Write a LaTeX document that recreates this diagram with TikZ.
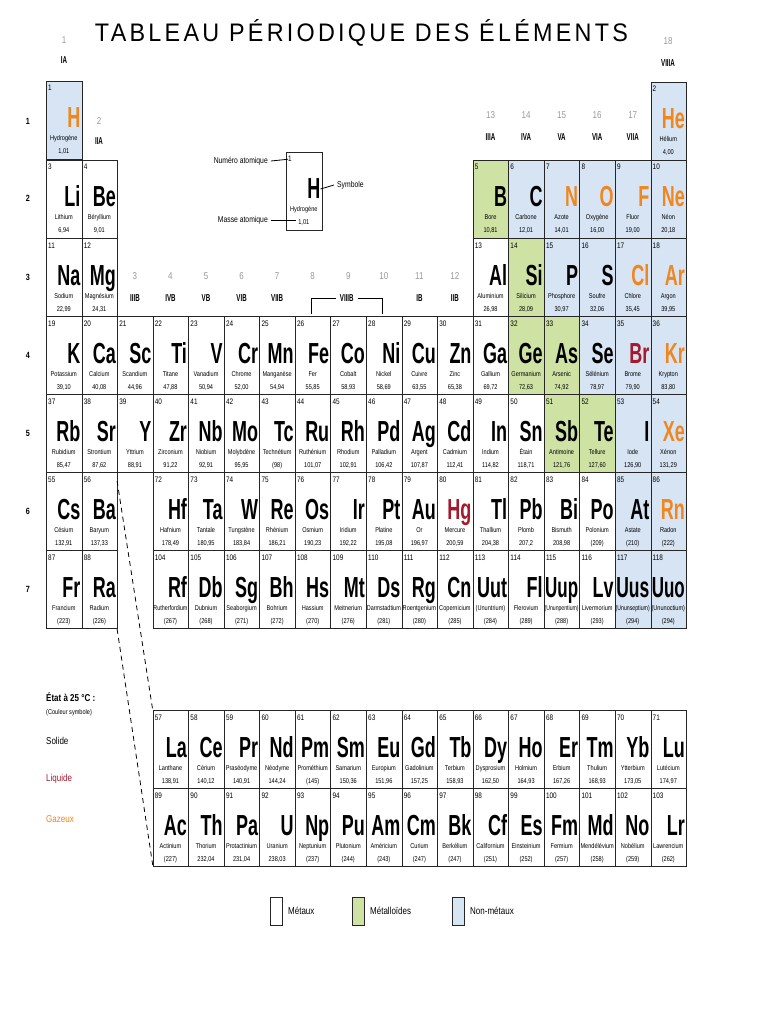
\documentclass[tikz,border=0pt]{standalone}
\usepackage{graphicx}
\usepackage{fontspec}
\setmainfont{Liberation Sans}
\newfontfamily\symf[FakeStretch=0.62]{Liberation Sans}
\newfontfamily\nf[FakeStretch=0.8]{Liberation Sans}
\newfontfamily\titf[LetterSpace=14]{Liberation Sans}
\definecolor{nm}{RGB}{214,228,244}
\definecolor{ml}{RGB}{206,226,164}
\definecolor{gas}{RGB}{240,134,30}
\definecolor{liq}{RGB}{165,25,45}
\colorlet{grp}{black!40}
\newsavebox\nbox
\newcommand\fitw[2]{\sbox\nbox{#2}\ifdim\wd\nbox>#1\resizebox{#1}{\ht\nbox}{\usebox\nbox}\else\usebox\nbox\fi}
\def\pfx{}
\newcommand\el[8]{%
 \pgfmathsetmacro\cx{46+35.56*(#1-1)}%
 \node[cell,fill=#7] (\pfx e#3) at (\cx,#2) {};
 \node[numf,anchor=base west] (\pfx n#3) at (\cx+2,#2+10) {#3};
 \node[symb,text=#8,anchor=base east] (\pfx s#3) at (\cx+34.5,#2+47) {\fitw{33pt}{#4}};
 \node[namef,anchor=base] (\pfx a#3) at (\cx+17.78,#2+60) {\fitw{34pt}{#5}};
 \node[namef,anchor=base] (\pfx m#3) at (\cx+17.78,#2+73) {#6};
}
\tikzset{
 cell/.style={draw=black!85,line width=0.9pt,minimum width=35.56pt,minimum height=78pt,inner sep=0pt,anchor=north west},
 numf/.style={inner sep=0pt,font=\nf\fontsize{8}{8}\selectfont},
 symb/.style={inner sep=0pt,font=\symf\bfseries\fontsize{29}{29}\selectfont},
 namef/.style={inner sep=0pt,font=\nf\fontsize{7}{7}\selectfont},
 gnum/.style={inner sep=0pt,text=grp,font=\nf\fontsize{10}{10}\selectfont},
 grom/.style={inner sep=0pt,font=\symf\bfseries\fontsize{10}{10}\selectfont},
 lab/.style={inner sep=0pt,font=\nf\fontsize{8.5}{8.5}\selectfont},
 per/.style={inner sep=0pt,font=\nf\bfseries\fontsize{9}{9}\selectfont},
}
\begin{document}
\begin{tikzpicture}[x=1pt,y=-1pt]
\useasboundingbox[fill=white] (0,0) rectangle (768,1024);
\node[inner sep=0pt] (title) at (361.5,33) {\resizebox{533pt}{22pt}{\titf\fontsize{30}{30}\selectfont TABLEAU PÉRIODIQUE DES ÉLÉMENTS}};
% group labels
\node[gnum] (g1) at (64,40) {1}; \node[grom] (r1) at (64,60) {IA};
\node[gnum] (g2) at (99,121) {2}; \node[grom] (r2) at (99,141) {IIA};
\node[gnum] (g18) at (668,41) {18}; \node[grom] (r18) at (668,63) {VIIIA};
\foreach \c/\r in {13/IIIA,14/IVA,15/VA,16/VIA,17/VIIA}{
 \pgfmathsetmacro\gx{46+35.56*(\c-0.5)}
 \node[gnum] (g\c) at (\gx,115) {\c}; \node[grom] (r\c) at (\gx,137) {\r};}
\foreach \c/\r in {3/IIIB,4/IVB,5/VB,6/VIB,7/VIIB,11/IB,12/IIB}{
 \pgfmathsetmacro\gx{46+35.56*(\c-0.5)}
 \node[gnum] (g\c) at (\gx,276) {\c}; \node[grom] (r\c) at (\gx,298) {\r};}
\foreach \c in {8,9,10}{
 \pgfmathsetmacro\gx{46+35.56*(\c-0.5)}
 \node[gnum] (g\c) at (\gx,276) {\c};}
\node[grom] (r9) at (346.8,298) {VIIIB};
\coordinate (b1) at (311.3,314); \coordinate (b2) at (382.4,314);
\draw[line width=0.8pt] (b1) |- ([xshift=-4pt]r9.west);
\draw[line width=0.8pt] (b2) |- ([xshift=4pt]r9.east);
% period numbers
\foreach \p/\y in {1/121,2/198,3/277,4/355,5/433,6/511,7/589}{\node[per] (p\p) at (28,\y) {\p};}
% row 1
\el{1}{81}{1}{H}{Hydrogène}{1,01}{nm}{gas}
\el{18}{82}{2}{He}{Hélium}{4,00}{nm}{gas}
% row 2
\el{1}{160}{3}{Li}{Lithium}{6,94}{white}{black}
\el{2}{160}{4}{Be}{Béryllium}{9,01}{white}{black}
\el{13}{160}{5}{B}{Bore}{10,81}{ml}{black}
\el{14}{160}{6}{C}{Carbone}{12,01}{nm}{black}
\el{15}{160}{7}{N}{Azote}{14,01}{nm}{gas}
\el{16}{160}{8}{O}{Oxygène}{16,00}{nm}{gas}
\el{17}{160}{9}{F}{Fluor}{19,00}{nm}{gas}
\el{18}{160}{10}{Ne}{Néon}{20,18}{nm}{gas}
% row 3
\el{1}{238}{11}{Na}{Sodium}{22,99}{white}{black}
\el{2}{238}{12}{Mg}{Magnésium}{24,31}{white}{black}
\el{13}{238}{13}{Al}{Aluminium}{26,98}{white}{black}
\el{14}{238}{14}{Si}{Silicium}{28,09}{ml}{black}
\el{15}{238}{15}{P}{Phosphore}{30,97}{nm}{black}
\el{16}{238}{16}{S}{Soufre}{32,06}{nm}{black}
\el{17}{238}{17}{Cl}{Chlore}{35,45}{nm}{gas}
\el{18}{238}{18}{Ar}{Argon}{39,95}{nm}{gas}
% row 4
\el{1}{316}{19}{K}{Potassium}{39,10}{white}{black}
\el{2}{316}{20}{Ca}{Calcium}{40,08}{white}{black}
\el{3}{316}{21}{Sc}{Scandium}{44,96}{white}{black}
\el{4}{316}{22}{Ti}{Titane}{47,88}{white}{black}
\el{5}{316}{23}{V}{Vanadium}{50,94}{white}{black}
\el{6}{316}{24}{Cr}{Chrome}{52,00}{white}{black}
\el{7}{316}{25}{Mn}{Manganèse}{54,94}{white}{black}
\el{8}{316}{26}{Fe}{Fer}{55,85}{white}{black}
\el{9}{316}{27}{Co}{Cobalt}{58,93}{white}{black}
\el{10}{316}{28}{Ni}{Nickel}{58,69}{white}{black}
\el{11}{316}{29}{Cu}{Cuivre}{63,55}{white}{black}
\el{12}{316}{30}{Zn}{Zinc}{65,38}{white}{black}
\el{13}{316}{31}{Ga}{Gallium}{69,72}{white}{black}
\el{14}{316}{32}{Ge}{Germanium}{72,63}{ml}{black}
\el{15}{316}{33}{As}{Arsenic}{74,92}{ml}{black}
\el{16}{316}{34}{Se}{Sélénium}{78,97}{nm}{black}
\el{17}{316}{35}{Br}{Brome}{79,90}{nm}{liq}
\el{18}{316}{36}{Kr}{Krypton}{83,80}{nm}{gas}
% row 5
\el{1}{394}{37}{Rb}{Rubidium}{85,47}{white}{black}
\el{2}{394}{38}{Sr}{Strontium}{87,62}{white}{black}
\el{3}{394}{39}{Y}{Yttrium}{88,91}{white}{black}
\el{4}{394}{40}{Zr}{Zirconium}{91,22}{white}{black}
\el{5}{394}{41}{Nb}{Niobium}{92,91}{white}{black}
\el{6}{394}{42}{Mo}{Molybdène}{95,95}{white}{black}
\el{7}{394}{43}{Tc}{Technétium}{(98)}{white}{black}
\el{8}{394}{44}{Ru}{Ruthénium}{101,07}{white}{black}
\el{9}{394}{45}{Rh}{Rhodium}{102,91}{white}{black}
\el{10}{394}{46}{Pd}{Palladium}{106,42}{white}{black}
\el{11}{394}{47}{Ag}{Argent}{107,87}{white}{black}
\el{12}{394}{48}{Cd}{Cadmium}{112,41}{white}{black}
\el{13}{394}{49}{In}{Indium}{114,82}{white}{black}
\el{14}{394}{50}{Sn}{Étain}{118,71}{white}{black}
\el{15}{394}{51}{Sb}{Antimoine}{121,76}{ml}{black}
\el{16}{394}{52}{Te}{Tellure}{127,60}{ml}{black}
\el{17}{394}{53}{I}{Iode}{126,90}{nm}{black}
\el{18}{394}{54}{Xe}{Xénon}{131,29}{nm}{gas}
% row 6
\el{1}{472}{55}{Cs}{Césium}{132,91}{white}{black}
\el{2}{472}{56}{Ba}{Baryum}{137,33}{white}{black}
\el{4}{472}{72}{Hf}{Hafnium}{178,49}{white}{black}
\el{5}{472}{73}{Ta}{Tantale}{180,95}{white}{black}
\el{6}{472}{74}{W}{Tungstène}{183,84}{white}{black}
\el{7}{472}{75}{Re}{Rhénium}{186,21}{white}{black}
\el{8}{472}{76}{Os}{Osmium}{190,23}{white}{black}
\el{9}{472}{77}{Ir}{Iridium}{192,22}{white}{black}
\el{10}{472}{78}{Pt}{Platine}{195,08}{white}{black}
\el{11}{472}{79}{Au}{Or}{196,97}{white}{black}
\el{12}{472}{80}{Hg}{Mercure}{200,59}{white}{liq}
\el{13}{472}{81}{Tl}{Thallium}{204,38}{white}{black}
\el{14}{472}{82}{Pb}{Plomb}{207,2}{white}{black}
\el{15}{472}{83}{Bi}{Bismuth}{208,98}{white}{black}
\el{16}{472}{84}{Po}{Polonium}{(209)}{white}{black}
\el{17}{472}{85}{At}{Astate}{(210)}{nm}{black}
\el{18}{472}{86}{Rn}{Radon}{(222)}{nm}{gas}
% row 7
\el{1}{550}{87}{Fr}{Francium}{(223)}{white}{black}
\el{2}{550}{88}{Ra}{Radium}{(226)}{white}{black}
\el{4}{550}{104}{Rf}{Rutherfordium}{(267)}{white}{black}
\el{5}{550}{105}{Db}{Dubnium}{(268)}{white}{black}
\el{6}{550}{106}{Sg}{Seaborgium}{(271)}{white}{black}
\el{7}{550}{107}{Bh}{Bohrium}{(272)}{white}{black}
\el{8}{550}{108}{Hs}{Hassium}{(270)}{white}{black}
\el{9}{550}{109}{Mt}{Meitnerium}{(276)}{white}{black}
\el{10}{550}{110}{Ds}{Darmstadtium}{(281)}{white}{black}
\el{11}{550}{111}{Rg}{Roentgenium}{(280)}{white}{black}
\el{12}{550}{112}{Cn}{Copernicium}{(285)}{white}{black}
\el{13}{550}{113}{Uut}{(Ununtrium)}{(284)}{white}{black}
\el{14}{550}{114}{Fl}{Flerovium}{(289)}{white}{black}
\el{15}{550}{115}{Uup}{(Ununpentium)}{(288)}{white}{black}
\el{16}{550}{116}{Lv}{Livermorium}{(293)}{white}{black}
\el{17}{550}{117}{Uus}{(Ununseptium)}{(294)}{nm}{black}
\el{18}{550}{118}{Uuo}{(Ununoctium)}{(294)}{nm}{black}
% lanthanides
\el{4}{710}{57}{La}{Lanthane}{138,91}{white}{black}
\el{5}{710}{58}{Ce}{Cérium}{140,12}{white}{black}
\el{6}{710}{59}{Pr}{Praséodyme}{140,91}{white}{black}
\el{7}{710}{60}{Nd}{Néodyme}{144,24}{white}{black}
\el{8}{710}{61}{Pm}{Prométhium}{(145)}{white}{black}
\el{9}{710}{62}{Sm}{Samarium}{150,36}{white}{black}
\el{10}{710}{63}{Eu}{Europium}{151,96}{white}{black}
\el{11}{710}{64}{Gd}{Gadolinium}{157,25}{white}{black}
\el{12}{710}{65}{Tb}{Terbium}{158,93}{white}{black}
\el{13}{710}{66}{Dy}{Dysprosium}{162,50}{white}{black}
\el{14}{710}{67}{Ho}{Holmium}{164,93}{white}{black}
\el{15}{710}{68}{Er}{Erbium}{167,26}{white}{black}
\el{16}{710}{69}{Tm}{Thulium}{168,93}{white}{black}
\el{17}{710}{70}{Yb}{Ytterbium}{173,05}{white}{black}
\el{18}{710}{71}{Lu}{Lutécium}{174,97}{white}{black}
% actinides
\el{4}{788}{89}{Ac}{Actinium}{(227)}{white}{black}
\el{5}{788}{90}{Th}{Thorium}{232,04}{white}{black}
\el{6}{788}{91}{Pa}{Protactinium}{231,04}{white}{black}
\el{7}{788}{92}{U}{Uranium}{238,03}{white}{black}
\el{8}{788}{93}{Np}{Neptunium}{(237)}{white}{black}
\el{9}{788}{94}{Pu}{Plutonium}{(244)}{white}{black}
\el{10}{788}{95}{Am}{Américium}{(243)}{white}{black}
\el{11}{788}{96}{Cm}{Curium}{(247)}{white}{black}
\el{12}{788}{97}{Bk}{Berkélium}{(247)}{white}{black}
\el{13}{788}{98}{Cf}{Californium}{(251)}{white}{black}
\el{14}{788}{99}{Es}{Einsteinium}{(252)}{white}{black}
\el{15}{788}{100}{Fm}{Fermium}{(257)}{white}{black}
\el{16}{788}{101}{Md}{Mendélévium}{(258)}{white}{black}
\el{17}{788}{102}{No}{Nobélium}{(259)}{white}{black}
\el{18}{788}{103}{Lr}{Lawrencium}{(262)}{white}{black}
% key
\def\pfx{key}
\el{7.75}{152}{1}{H}{Hydrogène}{1,01}{white}{black}
\node[lab,anchor=east] (lnum) at (268,161) {Numéro atomique};
\node[lab,anchor=west] (lsym) at (337,185) {Symbole};
\node[lab,anchor=east] (lmas) at (268,220) {Masse atomique};
\draw[line width=0.8pt] (lnum.east) ++(3,0) -- (keyn1.west);
\draw[line width=0.8pt] (keys1.east) -- ([xshift=-3pt]lsym.west);
\draw[line width=0.8pt] (lmas.east) ++(3,0) -- ([xshift=-2pt]keym1.west|-lmas.east);
% dashed connectors
\coordinate (d1) at (117.1,481); \coordinate (d2) at (152.7,710);
\coordinate (d3) at (117.1,629); \coordinate (d4) at (152.7,865);
\draw[dashed,dash pattern=on 5pt off 4pt,line width=0.8pt] (d1) -- (d2);
\draw[dashed,dash pattern=on 5pt off 4pt,line width=0.8pt] (d3) -- (d4);
% state legend
\node[inner sep=0pt,anchor=west,font=\nf\bfseries\fontsize{10}{10}\selectfont] (etat) at (46,697) {État à 25 °C :};
\node[inner sep=0pt,anchor=west,font=\nf\fontsize{7}{7}\selectfont] (coul) at (46,713) {(Couleur symbole)};
\node[lab,anchor=west,font=\nf\fontsize{10}{10}\selectfont] (sol) at (46,741) {Solide};
\node[lab,anchor=west,text=liq,font=\nf\fontsize{10}{10}\selectfont] (liqu) at (46,779) {Liquide};
\node[lab,anchor=west,text=gas,font=\nf\fontsize{10}{10}\selectfont] (gaz) at (46,819) {Gazeux};
% category legend
\node[draw=black!85,line width=0.8pt,fill=white,minimum width=12pt,minimum height=28pt,inner sep=0pt] (k1) at (276,911) {};
\node[draw=black!85,line width=0.8pt,fill=ml,minimum width=12pt,minimum height=28pt,inner sep=0pt] (k2) at (358,911) {};
\node[draw=black!85,line width=0.8pt,fill=nm,minimum width=12pt,minimum height=28pt,inner sep=0pt] (k3) at (458,911) {};
\node[lab,anchor=west,font=\nf\fontsize{10}{10}\selectfont] (t1) at (288,911) {Métaux};
\node[lab,anchor=west,font=\nf\fontsize{10}{10}\selectfont] (t2) at (370,911) {Métalloïdes};
\node[lab,anchor=west,font=\nf\fontsize{10}{10}\selectfont] (t3) at (470,911) {Non-métaux};
\end{tikzpicture}
\end{document}
